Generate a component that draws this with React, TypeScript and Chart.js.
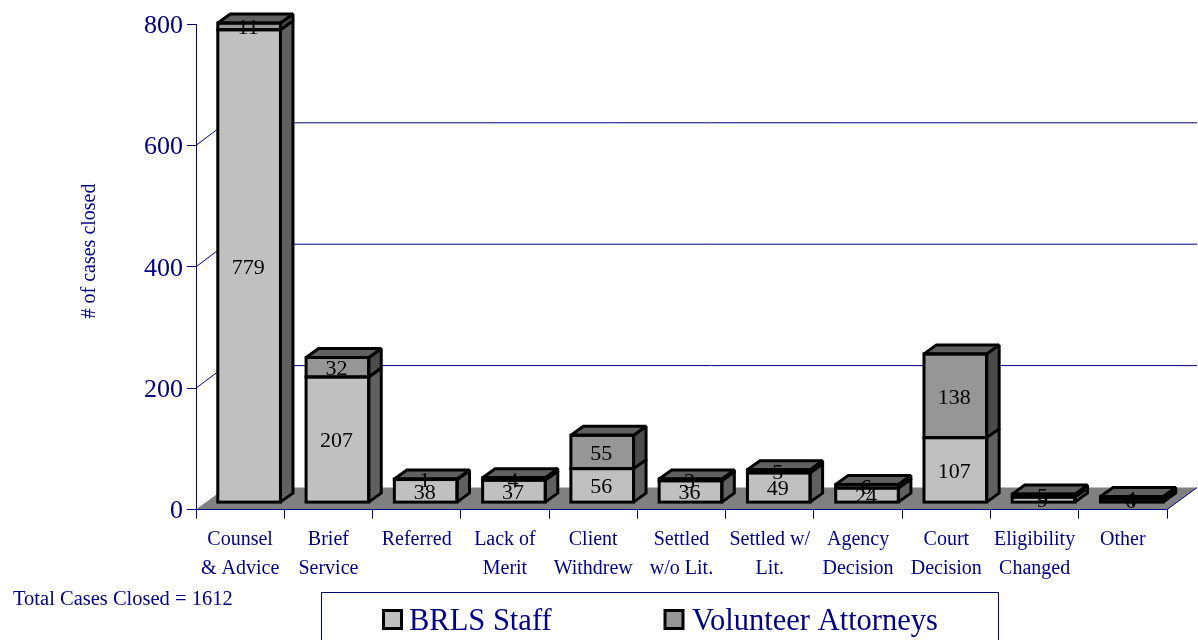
import React, { useEffect, useRef } from "react";
import { Chart, registerables } from "chart.js";

Chart.register(...registerables);

const categories: string[][] = [
  ["Counsel", "& Advice"],
  ["Brief", "Service"],
  ["Referred"],
  ["Lack of", "Merit"],
  ["Client", "Withdrew"],
  ["Settled", "w/o Lit."],
  ["Settled w/", "Lit."],
  ["Agency", "Decision"],
  ["Court", "Decision"],
  ["Eligibility", "Changed"],
  ["Other"],
];
const brlsStaff = [779, 207, 38, 37, 56, 36, 49, 24, 107, 9, 6];
const volunteerAttorneys = [11, 32, 1, 4, 55, 3, 5, 6, 138, 5, 4];
const seriesNames = ["BRLS Staff", "Volunteer Attorneys"];
const yTicks = [0, 200, 400, 600, 800];
const yTitle = "# of cases closed";
const footNote = "Total Cases Closed = 1612";

const NAVY = "#000080";
const FONT = "'Liberation Serif', serif";
const frontColors = ["#C0C0C0", "#969696"];
const sideColors = ["#606060", "#4B4B4B"];
const topColors = ["#606060", "#606060"];
const FLOOR = "#808080";

// oblique projection of the chart's depth
const WALL_DX = 30;
const WALL_DY = 22;
const GRID_DY = 22.6;
const BAR_SHIFT_X = 9;
const BAR_SHIFT_Y = 7;
const BAR_DX = 12.5;
const BAR_DY = 9;
const STROKE = 3;

const poly = (ctx: CanvasRenderingContext2D, pts: number[][]) => {
  ctx.beginPath();
  pts.forEach(([x, y], i) => (i ? ctx.lineTo(x, y) : ctx.moveTo(x, y)));
  ctx.closePath();
};

const scene3d = {
  id: "scene3d",
  beforeDraw(chart: any) {
    const { ctx, chartArea, scales } = chart;
    const { left, right, bottom } = chartArea;
    // nudge the value-axis labels onto their tick marks
    if (!chart.$nudged) {
      scales.y.getLabelItems(chartArea).forEach((it: any) => {
        it.options.translation[1] += 2;
      });
      chart.$nudged = true;
    }
    ctx.save();
    ctx.fillStyle = FLOOR;
    poly(ctx, [
      [left, bottom],
      [left + WALL_DX, bottom - WALL_DY],
      [right + WALL_DX, bottom - WALL_DY],
      [right, bottom],
    ]);
    ctx.fill();
    ctx.strokeStyle = NAVY;
    ctx.lineWidth = 1;
    yTicks.slice(1, -1).forEach((v) => {
      const y = scales.y.getPixelForValue(v);
      ctx.beginPath();
      ctx.moveTo(left, y);
      ctx.lineTo(left + WALL_DX, y - GRID_DY);
      ctx.lineTo(right + WALL_DX, y - GRID_DY);
      ctx.stroke();
    });
    ctx.beginPath();
    ctx.moveTo(right, bottom);
    ctx.lineTo(right + WALL_DX, bottom - WALL_DY);
    ctx.stroke();
    ctx.restore();
  },
  beforeDatasetsDraw(chart: any) {
    chart.ctx.save();
    chart.ctx.translate(BAR_SHIFT_X, -BAR_SHIFT_Y);
  },
  afterDatasetsDraw(chart: any) {
    const { ctx, data } = chart;
    ctx.restore();
    ctx.save();
    ctx.lineJoin = "miter";
    ctx.miterLimit = 1.5;
    ctx.strokeStyle = "#000";
    ctx.lineWidth = STROKE;
    const count = data.labels.length;
    const nSets = data.datasets.length;
    for (let i = 0; i < count; i++) {
      for (let d = 0; d < nSets; d++) {
        const el = chart.getDatasetMeta(d).data[i];
        const x0 = el.x - el.width / 2 + BAR_SHIFT_X;
        const x1 = el.x + el.width / 2 + BAR_SHIFT_X;
        const yt = el.y - BAR_SHIFT_Y;
        const yb = el.base - BAR_SHIFT_Y;
        ctx.fillStyle = sideColors[d];
        poly(ctx, [
          [x1, yt],
          [x1 + BAR_DX, yt - BAR_DY],
          [x1 + BAR_DX, yb - BAR_DY],
          [x1, yb],
        ]);
        ctx.fill();
        ctx.stroke();
        if (d === nSets - 1) {
          ctx.fillStyle = topColors[d];
          poly(ctx, [
            [x0, yt],
            [x0 + BAR_DX, yt - BAR_DY],
            [x1 + BAR_DX, yt - BAR_DY],
            [x1, yt],
          ]);
          ctx.fill();
          ctx.stroke();
        }
        ctx.strokeRect(x0, yt, x1 - x0, yb - yt);
      }
    }
    ctx.fillStyle = "#000";
    ctx.font = `22px ${FONT}`;
    ctx.textAlign = "center";
    ctx.textBaseline = "middle";
    for (let i = 0; i < count; i++) {
      for (let d = 0; d < nSets; d++) {
        const el = chart.getDatasetMeta(d).data[i];
        const cy = (el.y + el.base) / 2 - BAR_SHIFT_Y;
        ctx.fillText(String(data.datasets[d].data[i]), el.x + BAR_SHIFT_X - 1, cy + 2);
      }
    }
    ctx.restore();
  },
  afterDraw(chart: any) {
    const { ctx } = chart;
    ctx.save();
    ctx.fillStyle = NAVY;
    ctx.strokeStyle = NAVY;
    ctx.textBaseline = "alphabetic";
    ctx.textAlign = "left";
    ctx.font = `20.5px ${FONT}`;
    ctx.fillText(footNote, 13, 605);

    ctx.font = `20px ${FONT}`;
    ctx.save();
    ctx.translate(90, 251);
    ctx.rotate(-Math.PI / 2);
    ctx.textAlign = "center";
    ctx.textBaseline = "middle";
    ctx.fillText(yTitle, 0, 0);
    ctx.restore();

    ctx.lineWidth = 1;
    ctx.strokeRect(321.5, 592.5, 677, 60);
    const swatchX = [383.5, 665];
    const labelX = [409, 692];
    ctx.font = `30.5px ${FONT}`;
    seriesNames.forEach((name, i) => {
      ctx.fillStyle = frontColors[i];
      ctx.fillRect(swatchX[i], 610.5, 18, 18);
      ctx.strokeStyle = "#000";
      ctx.lineWidth = STROKE;
      ctx.strokeRect(swatchX[i], 610.5, 18, 18);
      ctx.fillStyle = NAVY;
      ctx.fillText(name, labelX[i], 630);
    });
    ctx.restore();
  },
};

export default function App() {
  const ref = useRef<HTMLCanvasElement>(null);
  useEffect(() => {
    document.body.style.margin = "0";
    const chart = new Chart(ref.current!, {
      type: "bar",
      plugins: [scene3d],
      data: {
        labels: categories,
        datasets: [
          { label: seriesNames[0], data: brlsStaff, backgroundColor: frontColors[0], borderWidth: 0, clip: false },
          { label: seriesNames[1], data: volunteerAttorneys, backgroundColor: frontColors[1], borderWidth: 0, clip: false },
        ],
      },
      options: {
        responsive: false,
        animation: false,
        devicePixelRatio: 1,
        layout: { padding: { left: 0, top: 24, right: 31, bottom: 0 } },
        datasets: { bar: { categoryPercentage: 1, barPercentage: 0.71 } },
        plugins: { legend: { display: false }, tooltip: { enabled: false }, title: { display: false } },
        scales: {
          x: {
            stacked: true,
            offset: true,
            afterFit: (s: any) => {
              s.height = 130.4;
            },
            grid: { drawOnChartArea: false, drawTicks: true, tickLength: 9, tickColor: NAVY, tickWidth: 1, offset: true },
            border: { display: true, color: NAVY, width: 1 },
            ticks: {
              color: NAVY,
              font: { family: FONT, size: 20, lineHeight: 1.45 },
              padding: 7,
              maxRotation: 0,
              minRotation: 0,
              autoSkip: false,
            },
          },
          y: {
            stacked: true,
            min: 0,
            max: 800,
            afterFit: (s: any) => {
              s.width = 196;
            },
            afterBuildTicks: (s: any) => {
              s.ticks = yTicks.map((value) => ({ value }));
            },
            grid: { drawOnChartArea: false, drawTicks: true, tickLength: 9, tickColor: NAVY, tickWidth: 1 },
            border: { display: true, color: NAVY, width: 1 },
            ticks: { color: NAVY, font: { family: FONT, size: 26 }, padding: 4 },
          },
        },
      },
    } as any);
    return () => chart.destroy();
  }, []);
  return (
    <div style={{ position: "absolute", left: 0, top: 0, width: 1198, height: 640, overflow: "hidden" }}>
      <canvas ref={ref} width={1198} height={640} style={{ display: "block" }} />
    </div>
  );
}
